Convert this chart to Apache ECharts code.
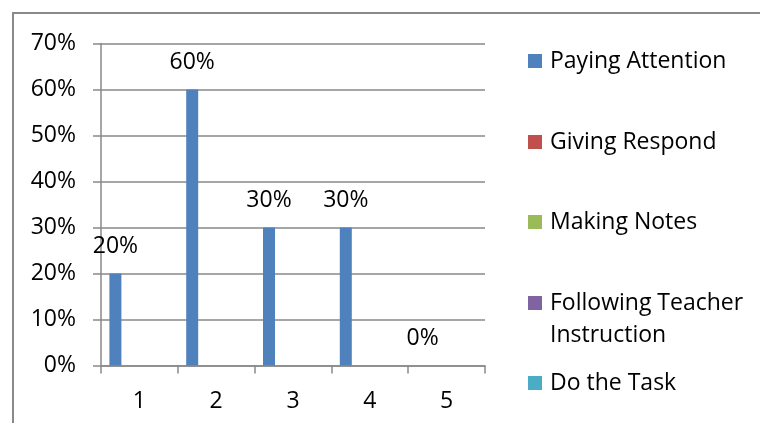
<!DOCTYPE html>
<html>
<head>
<meta charset="utf-8">
<script src="https://cdn.jsdelivr.net/npm/echarts@6/dist/echarts.min.js"></script>
<style>
html,body{margin:0;padding:0;background:#fff;}
#chart{width:760px;height:423px;}
</style>
</head>
<body>
<div id="chart"></div>
<script>
const categories = ['1', '2', '3', '4', '5'];
const seriesNames = ['Paying Attention', 'Giving Respond', 'Making Notes', 'Following Teacher Instruction', 'Do the Task'];
const legendLabels = ['Paying Attention', 'Giving Respond', 'Making Notes', '\nFollowing Teacher\nInstruction', 'Do the Task'];
const payingAttention = [20, 60, 30, 30, 0];
const givingRespond = [null, null, null, null, null];
const makingNotes = [null, null, null, null, null];
const followingTeacher = [null, null, null, null, null];
const doTheTask = [null, null, null, null, null];
const yTicks = [0, 10, 20, 30, 40, 50, 60, 70];

const seriesData = [payingAttention, givingRespond, makingNotes, followingTeacher, doTheTask];
const colors = ['#4F81BD', '#C0504D', '#9BBB59', '#8064A2', '#4BACC6'];
const FONT = 'Open Sans';
const FS = 23;
const gray = '#898989';

const chart = echarts.init(document.getElementById('chart'), null, {renderer: 'canvas'});

const legendTops = [49, 130, 210, 255, 371];
const legends = seriesNames.map((name, i) => {
  const multi = legendLabels[i].indexOf('\n') >= 0;
  return {
    orient: 'vertical',
    left: 528,
    top: legendTops[i],
    padding: 0,
    itemWidth: 14,
    itemHeight: 14,
    itemGap: 7,
    icon: 'rect',
    selectedMode: false,
    data: [name],
    formatter: () => legendLabels[i],
    textStyle: {
      fontFamily: FONT,
      fontSize: FS,
      color: '#000',
      lineHeight: multi ? 32 : 24,
      padding: [0, 0, 0, 3]
    }
  };
});

const series = seriesNames.map((name, i) => ({
  name: name,
  type: 'bar',
  data: seriesData[i],
  barWidth: 12,
  barGap: '0%',
  itemStyle: {color: colors[i]},
  label: i === 0 ? {
    show: true,
    position: 'top',
    distance: 16,
    formatter: '{c}%',
    fontFamily: FONT,
    fontSize: FS,
    color: '#000'
  } : {show: false}
}));

chart.setOption({
  animation: false,
  color: colors,
  graphic: [{
    type: 'rect',
    shape: {x: 13, y: 13, width: 900, height: 600},
    style: {fill: null, stroke: gray, lineWidth: 2},
    silent: true,
    z: -10
  }],
  legend: legends,
  grid: {left: 101, right: 275, top: 43.5, bottom: 57.5, containLabel: false},
  xAxis: {
    type: 'category',
    data: categories,
    axisLine: {show: true, lineStyle: {color: gray, width: 1.5}},
    axisTick: {show: true, length: 8, alignWithLabel: false, lineStyle: {color: gray, width: 1.5}},
    axisLabel: {fontFamily: FONT, fontSize: FS, color: '#000', margin: 24}
  },
  yAxis: {
    type: 'value',
    min: yTicks[0],
    max: yTicks[yTicks.length - 1],
    interval: 10,
    axisLine: {show: true, lineStyle: {color: gray, width: 1.5}},
    axisTick: {show: true, length: 8, lineStyle: {color: gray, width: 1.5}},
    splitLine: {show: true, lineStyle: {color: gray, width: 1.5}},
    axisLabel: {fontFamily: FONT, fontSize: FS, color: '#000', margin: 25, formatter: '{value}%'}
  },
  series: series
});
</script>
</body>
</html>
